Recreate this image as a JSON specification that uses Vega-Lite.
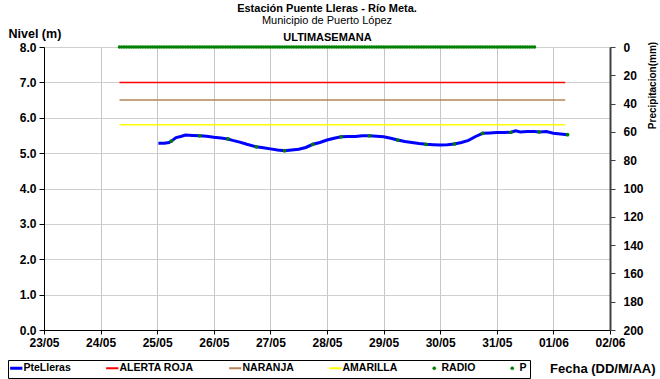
{
  "$schema": "https://vega.github.io/schema/vega-lite/v6.json",
  "width": 566,
  "height": 283,
  "autosize": {"type": "none"},
  "padding": {"left": 44, "top": 47, "right": 50, "bottom": 49},
  "background": "white",
  "title": {
    "text": "Estación Puente Lleras - Río Meta.",
    "subtitle": "Municipio de Puerto López",
    "anchor": "middle",
    "frame": "group",
    "font": "Liberation Sans",
    "fontSize": 11,
    "fontWeight": "bold",
    "color": "black",
    "subtitleFont": "Liberation Sans",
    "subtitleFontSize": 11,
    "subtitleColor": "black",
    "subtitlePadding": 1,
    "offset": 1
  },
  "config": {
    "view": {"stroke": null},
    "axis": {"labelFont": "Liberation Sans", "titleFont": "Liberation Sans", "labelColor": "black", "titleColor": "black"},
    "legend": {"strokeColor": "#000000", "fillColor": "#ffffff", "padding": 3, "strokeWidth": 1}
  },
  "datasets": {
    "umbrales": [
      {"f": "2020-05-24T08:00", "nivel": 7.0, "serie": "ALERTA ROJA"},
      {"f": "2020-06-01T05:00", "nivel": 7.0, "serie": "ALERTA ROJA"},
      {"f": "2020-05-24T08:00", "nivel": 6.5, "serie": "NARANJA"},
      {"f": "2020-06-01T05:00", "nivel": 6.5, "serie": "NARANJA"},
      {"f": "2020-05-24T08:00", "nivel": 5.8, "serie": "AMARILLA"},
      {"f": "2020-06-01T05:00", "nivel": 5.8, "serie": "AMARILLA"}
    ],
    "nivel": [
      {"f": "2020-05-25T00:30", "nivel": 5.28},
      {"f": "2020-05-25T03:00", "nivel": 5.28},
      {"f": "2020-05-25T05:00", "nivel": 5.30},
      {"f": "2020-05-25T06:00", "nivel": 5.34},
      {"f": "2020-05-25T08:00", "nivel": 5.44},
      {"f": "2020-05-25T10:00", "nivel": 5.47},
      {"f": "2020-05-25T12:00", "nivel": 5.51},
      {"f": "2020-05-25T15:00", "nivel": 5.50},
      {"f": "2020-05-25T18:00", "nivel": 5.49},
      {"f": "2020-05-25T21:00", "nivel": 5.48},
      {"f": "2020-05-26T00:00", "nivel": 5.45},
      {"f": "2020-05-26T03:00", "nivel": 5.43},
      {"f": "2020-05-26T06:00", "nivel": 5.40},
      {"f": "2020-05-26T08:00", "nivel": 5.36},
      {"f": "2020-05-26T11:00", "nivel": 5.31},
      {"f": "2020-05-26T14:00", "nivel": 5.25},
      {"f": "2020-05-26T18:00", "nivel": 5.18},
      {"f": "2020-05-26T21:00", "nivel": 5.15},
      {"f": "2020-05-27T00:00", "nivel": 5.12},
      {"f": "2020-05-27T03:00", "nivel": 5.09},
      {"f": "2020-05-27T06:00", "nivel": 5.07},
      {"f": "2020-05-27T09:00", "nivel": 5.09},
      {"f": "2020-05-27T12:00", "nivel": 5.11},
      {"f": "2020-05-27T15:00", "nivel": 5.16},
      {"f": "2020-05-27T18:00", "nivel": 5.25},
      {"f": "2020-05-27T21:00", "nivel": 5.30},
      {"f": "2020-05-28T00:00", "nivel": 5.37},
      {"f": "2020-05-28T03:00", "nivel": 5.42},
      {"f": "2020-05-28T06:00", "nivel": 5.46},
      {"f": "2020-05-28T09:00", "nivel": 5.47},
      {"f": "2020-05-28T12:00", "nivel": 5.47},
      {"f": "2020-05-28T15:00", "nivel": 5.49},
      {"f": "2020-05-28T18:00", "nivel": 5.49},
      {"f": "2020-05-28T21:00", "nivel": 5.48},
      {"f": "2020-05-29T00:00", "nivel": 5.46},
      {"f": "2020-05-29T03:00", "nivel": 5.42},
      {"f": "2020-05-29T06:00", "nivel": 5.37},
      {"f": "2020-05-29T09:00", "nivel": 5.33},
      {"f": "2020-05-29T12:00", "nivel": 5.30},
      {"f": "2020-05-29T15:00", "nivel": 5.27},
      {"f": "2020-05-29T18:00", "nivel": 5.25},
      {"f": "2020-05-29T21:00", "nivel": 5.24},
      {"f": "2020-05-30T00:00", "nivel": 5.23},
      {"f": "2020-05-30T03:00", "nivel": 5.24},
      {"f": "2020-05-30T06:00", "nivel": 5.26},
      {"f": "2020-05-30T09:00", "nivel": 5.30},
      {"f": "2020-05-30T12:00", "nivel": 5.36},
      {"f": "2020-05-30T15:00", "nivel": 5.47},
      {"f": "2020-05-30T18:00", "nivel": 5.56},
      {"f": "2020-05-30T21:00", "nivel": 5.57},
      {"f": "2020-05-31T00:00", "nivel": 5.58},
      {"f": "2020-05-31T03:00", "nivel": 5.58},
      {"f": "2020-05-31T06:00", "nivel": 5.59},
      {"f": "2020-05-31T08:00", "nivel": 5.63},
      {"f": "2020-05-31T10:00", "nivel": 5.60},
      {"f": "2020-05-31T13:00", "nivel": 5.61},
      {"f": "2020-05-31T16:00", "nivel": 5.61},
      {"f": "2020-05-31T18:00", "nivel": 5.60},
      {"f": "2020-05-31T21:00", "nivel": 5.61},
      {"f": "2020-06-01T00:00", "nivel": 5.56},
      {"f": "2020-06-01T03:00", "nivel": 5.54},
      {"f": "2020-06-01T06:00", "nivel": 5.52}
    ],
    "radio": [
      {"f": "2020-05-25T06:00", "nivel": 5.34},
      {"f": "2020-05-25T18:00", "nivel": 5.49},
      {"f": "2020-05-26T06:00", "nivel": 5.40},
      {"f": "2020-05-26T18:00", "nivel": 5.18},
      {"f": "2020-05-27T06:00", "nivel": 5.07},
      {"f": "2020-05-27T18:00", "nivel": 5.25},
      {"f": "2020-05-28T06:00", "nivel": 5.46},
      {"f": "2020-05-28T18:00", "nivel": 5.49},
      {"f": "2020-05-29T06:00", "nivel": 5.37},
      {"f": "2020-05-29T18:00", "nivel": 5.25},
      {"f": "2020-05-30T06:00", "nivel": 5.26},
      {"f": "2020-05-30T18:00", "nivel": 5.56},
      {"f": "2020-05-31T06:00", "nivel": 5.59},
      {"f": "2020-05-31T18:00", "nivel": 5.60},
      {"f": "2020-06-01T06:00", "nivel": 5.52}
    ],
    "precip": [
      {"f": "2020-05-24T08:00", "p": 0}, {"f": "2020-05-24T09:00", "p": 0}, {"f": "2020-05-24T10:00", "p": 0}, {"f": "2020-05-24T11:00", "p": 0},
      {"f": "2020-05-24T12:00", "p": 0}, {"f": "2020-05-24T13:00", "p": 0}, {"f": "2020-05-24T14:00", "p": 0}, {"f": "2020-05-24T15:00", "p": 0},
      {"f": "2020-05-24T16:00", "p": 0}, {"f": "2020-05-24T17:00", "p": 0}, {"f": "2020-05-24T18:00", "p": 0}, {"f": "2020-05-24T19:00", "p": 0},
      {"f": "2020-05-24T20:00", "p": 0}, {"f": "2020-05-24T21:00", "p": 0}, {"f": "2020-05-24T22:00", "p": 0}, {"f": "2020-05-24T23:00", "p": 0},
      {"f": "2020-05-25T00:00", "p": 0}, {"f": "2020-05-25T01:00", "p": 0}, {"f": "2020-05-25T02:00", "p": 0}, {"f": "2020-05-25T03:00", "p": 0},
      {"f": "2020-05-25T04:00", "p": 0}, {"f": "2020-05-25T05:00", "p": 0}, {"f": "2020-05-25T06:00", "p": 0}, {"f": "2020-05-25T07:00", "p": 0},
      {"f": "2020-05-25T08:00", "p": 0}, {"f": "2020-05-25T09:00", "p": 0}, {"f": "2020-05-25T10:00", "p": 0}, {"f": "2020-05-25T11:00", "p": 0},
      {"f": "2020-05-25T12:00", "p": 0}, {"f": "2020-05-25T13:00", "p": 0}, {"f": "2020-05-25T14:00", "p": 0}, {"f": "2020-05-25T15:00", "p": 0},
      {"f": "2020-05-25T16:00", "p": 0}, {"f": "2020-05-25T17:00", "p": 0}, {"f": "2020-05-25T18:00", "p": 0}, {"f": "2020-05-25T19:00", "p": 0},
      {"f": "2020-05-25T20:00", "p": 0}, {"f": "2020-05-25T21:00", "p": 0}, {"f": "2020-05-25T22:00", "p": 0}, {"f": "2020-05-25T23:00", "p": 0},
      {"f": "2020-05-26T00:00", "p": 0}, {"f": "2020-05-26T01:00", "p": 0}, {"f": "2020-05-26T02:00", "p": 0}, {"f": "2020-05-26T03:00", "p": 0},
      {"f": "2020-05-26T04:00", "p": 0}, {"f": "2020-05-26T05:00", "p": 0}, {"f": "2020-05-26T06:00", "p": 0}, {"f": "2020-05-26T07:00", "p": 0},
      {"f": "2020-05-26T08:00", "p": 0}, {"f": "2020-05-26T09:00", "p": 0}, {"f": "2020-05-26T10:00", "p": 0}, {"f": "2020-05-26T11:00", "p": 0},
      {"f": "2020-05-26T12:00", "p": 0}, {"f": "2020-05-26T13:00", "p": 0}, {"f": "2020-05-26T14:00", "p": 0}, {"f": "2020-05-26T15:00", "p": 0},
      {"f": "2020-05-26T16:00", "p": 0}, {"f": "2020-05-26T17:00", "p": 0}, {"f": "2020-05-26T18:00", "p": 0}, {"f": "2020-05-26T19:00", "p": 0},
      {"f": "2020-05-26T20:00", "p": 0}, {"f": "2020-05-26T21:00", "p": 0}, {"f": "2020-05-26T22:00", "p": 0}, {"f": "2020-05-26T23:00", "p": 0},
      {"f": "2020-05-27T00:00", "p": 0}, {"f": "2020-05-27T01:00", "p": 0}, {"f": "2020-05-27T02:00", "p": 0}, {"f": "2020-05-27T03:00", "p": 0},
      {"f": "2020-05-27T04:00", "p": 0}, {"f": "2020-05-27T05:00", "p": 0}, {"f": "2020-05-27T06:00", "p": 0}, {"f": "2020-05-27T07:00", "p": 0},
      {"f": "2020-05-27T08:00", "p": 0}, {"f": "2020-05-27T09:00", "p": 0}, {"f": "2020-05-27T10:00", "p": 0}, {"f": "2020-05-27T11:00", "p": 0},
      {"f": "2020-05-27T12:00", "p": 0}, {"f": "2020-05-27T13:00", "p": 0}, {"f": "2020-05-27T14:00", "p": 0}, {"f": "2020-05-27T15:00", "p": 0},
      {"f": "2020-05-27T16:00", "p": 0}, {"f": "2020-05-27T17:00", "p": 0}, {"f": "2020-05-27T18:00", "p": 0}, {"f": "2020-05-27T19:00", "p": 0},
      {"f": "2020-05-27T20:00", "p": 0}, {"f": "2020-05-27T21:00", "p": 0}, {"f": "2020-05-27T22:00", "p": 0}, {"f": "2020-05-27T23:00", "p": 0},
      {"f": "2020-05-28T00:00", "p": 0}, {"f": "2020-05-28T01:00", "p": 0}, {"f": "2020-05-28T02:00", "p": 0}, {"f": "2020-05-28T03:00", "p": 0},
      {"f": "2020-05-28T04:00", "p": 0}, {"f": "2020-05-28T05:00", "p": 0}, {"f": "2020-05-28T06:00", "p": 0}, {"f": "2020-05-28T07:00", "p": 0},
      {"f": "2020-05-28T08:00", "p": 0}, {"f": "2020-05-28T09:00", "p": 0}, {"f": "2020-05-28T10:00", "p": 0}, {"f": "2020-05-28T11:00", "p": 0},
      {"f": "2020-05-28T12:00", "p": 0}, {"f": "2020-05-28T13:00", "p": 0}, {"f": "2020-05-28T14:00", "p": 0}, {"f": "2020-05-28T15:00", "p": 0},
      {"f": "2020-05-28T16:00", "p": 0}, {"f": "2020-05-28T17:00", "p": 0}, {"f": "2020-05-28T18:00", "p": 0}, {"f": "2020-05-28T19:00", "p": 0},
      {"f": "2020-05-28T20:00", "p": 0}, {"f": "2020-05-28T21:00", "p": 0}, {"f": "2020-05-28T22:00", "p": 0}, {"f": "2020-05-28T23:00", "p": 0},
      {"f": "2020-05-29T00:00", "p": 0}, {"f": "2020-05-29T01:00", "p": 0}, {"f": "2020-05-29T02:00", "p": 0}, {"f": "2020-05-29T03:00", "p": 0},
      {"f": "2020-05-29T04:00", "p": 0}, {"f": "2020-05-29T05:00", "p": 0}, {"f": "2020-05-29T06:00", "p": 0}, {"f": "2020-05-29T07:00", "p": 0},
      {"f": "2020-05-29T08:00", "p": 0}, {"f": "2020-05-29T09:00", "p": 0}, {"f": "2020-05-29T10:00", "p": 0}, {"f": "2020-05-29T11:00", "p": 0},
      {"f": "2020-05-29T12:00", "p": 0}, {"f": "2020-05-29T13:00", "p": 0}, {"f": "2020-05-29T14:00", "p": 0}, {"f": "2020-05-29T15:00", "p": 0},
      {"f": "2020-05-29T16:00", "p": 0}, {"f": "2020-05-29T17:00", "p": 0}, {"f": "2020-05-29T18:00", "p": 0}, {"f": "2020-05-29T19:00", "p": 0},
      {"f": "2020-05-29T20:00", "p": 0}, {"f": "2020-05-29T21:00", "p": 0}, {"f": "2020-05-29T22:00", "p": 0}, {"f": "2020-05-29T23:00", "p": 0},
      {"f": "2020-05-30T00:00", "p": 0}, {"f": "2020-05-30T01:00", "p": 0}, {"f": "2020-05-30T02:00", "p": 0}, {"f": "2020-05-30T03:00", "p": 0},
      {"f": "2020-05-30T04:00", "p": 0}, {"f": "2020-05-30T05:00", "p": 0}, {"f": "2020-05-30T06:00", "p": 0}, {"f": "2020-05-30T07:00", "p": 0},
      {"f": "2020-05-30T08:00", "p": 0}, {"f": "2020-05-30T09:00", "p": 0}, {"f": "2020-05-30T10:00", "p": 0}, {"f": "2020-05-30T11:00", "p": 0},
      {"f": "2020-05-30T12:00", "p": 0}, {"f": "2020-05-30T13:00", "p": 0}, {"f": "2020-05-30T14:00", "p": 0}, {"f": "2020-05-30T15:00", "p": 0},
      {"f": "2020-05-30T16:00", "p": 0}, {"f": "2020-05-30T17:00", "p": 0}, {"f": "2020-05-30T18:00", "p": 0}, {"f": "2020-05-30T19:00", "p": 0},
      {"f": "2020-05-30T20:00", "p": 0}, {"f": "2020-05-30T21:00", "p": 0}, {"f": "2020-05-30T22:00", "p": 0}, {"f": "2020-05-30T23:00", "p": 0},
      {"f": "2020-05-31T00:00", "p": 0}, {"f": "2020-05-31T01:00", "p": 0}, {"f": "2020-05-31T02:00", "p": 0}, {"f": "2020-05-31T03:00", "p": 0},
      {"f": "2020-05-31T04:00", "p": 0}, {"f": "2020-05-31T05:00", "p": 0}, {"f": "2020-05-31T06:00", "p": 0}, {"f": "2020-05-31T07:00", "p": 0},
      {"f": "2020-05-31T08:00", "p": 0}, {"f": "2020-05-31T09:00", "p": 0}, {"f": "2020-05-31T10:00", "p": 0}, {"f": "2020-05-31T11:00", "p": 0},
      {"f": "2020-05-31T12:00", "p": 0}, {"f": "2020-05-31T13:00", "p": 0}, {"f": "2020-05-31T14:00", "p": 0}, {"f": "2020-05-31T15:00", "p": 0},
      {"f": "2020-05-31T16:00", "p": 0}
    ]
  },
  "resolve": {"scale": {"y": "independent"}, "axis": {"x": "independent", "y": "independent"}},
  "layer": [
    {
      "data": {"name": "umbrales"},
      "mark": {"type": "line", "strokeWidth": 1.5, "clip": false},
      "encoding": {
        "x": {
          "field": "f", "type": "temporal",
          "scale": {"domain": [{"year": 2020, "month": 5, "date": 23}, {"year": 2020, "month": 6, "date": 2}]},
          "axis": {
            "orient": "bottom",
            "format": "%d/%m",
            "tickCount": {"interval": "day", "step": 1},
            "labelFontSize": 12, "labelFontWeight": "bold", "labelPadding": 3,
            "labelFlush": false, "labelOverlap": false,
            "domainColor": "black", "tickColor": "black", "tickSize": 4,
            "grid": true, "gridColor": "#c6c6c6",
            "title": "Fecha (DD/M/AA)", "titleFontSize": 13, "titleFontWeight": "bold",
            "titleX": 611, "titleY": 38, "titleAlign": "right", "titleBaseline": "middle"
          }
        },
        "y": {
          "field": "nivel", "type": "quantitative",
          "scale": {"domain": [0, 8], "nice": false, "zero": false},
          "axis": {
            "orient": "left",
            "values": [0, 1, 2, 3, 4, 5, 6, 7, 8],
            "format": ".1f",
            "labelFontSize": 12, "labelFontWeight": "bold", "labelPadding": 3,
            "domainColor": "black", "tickColor": "black", "tickSize": 5,
            "grid": true, "gridColor": "#cfcfcf",
            "title": "Nivel (m)", "titleFontSize": 12.5, "titleFontWeight": "bold",
            "titleAngle": 0, "titleX": -36, "titleY": -14, "titleAlign": "left", "titleBaseline": "middle"
          }
        },
        "color": {
          "field": "serie", "type": "nominal",
          "scale": {
            "domain": ["PteLleras", "ALERTA ROJA", "NARANJA", "AMARILLA", "RADIO", "P"],
            "range": ["#0000ff", "#ff0000", "#b5835a", "#ffff00", "#008000", "#008000"]
          },
          "legend": {
            "title": null,
            "orient": "none",
            "legendX": -36,
            "legendY": 313,
            "direction": "horizontal",
            "strokeColor": "#000000",
            "fillColor": "#ffffff",
            "padding": 3,
            "columnPadding": 31,
            "gridAlign": "none",
            "symbolSize": 400,
            "symbolType": "stroke",
            "labelFont": "Liberation Sans",
            "labelFontSize": 10.5,
            "labelFontWeight": "bold",
            "labelColor": "black",
            "labelOffset": 2,
            "labelLimit": 200,
            "encode": {
              "symbols": {
                "update": {
                  "shape": {"signal": "datum.value === 'RADIO' || datum.value === 'P' ? 'circle' : 'stroke'"},
                  "size": {"signal": "datum.value === 'RADIO' || datum.value === 'P' ? 10 : 150"},
                  "fill": {"signal": "datum.value === 'RADIO' || datum.value === 'P' ? '#008000' : 'transparent'"},
                  "stroke": {"signal": "scale('color', datum.value)"},
                  "strokeWidth": {"signal": "datum.value === 'PteLleras' ? 3 : (datum.value === 'RADIO' || datum.value === 'P' ? 0.5 : 2)"}
                }
              }
            }
          }
        }
      }
    },
    {
      "data": {"name": "nivel"},
      "mark": {"type": "line", "strokeWidth": 3, "color": "#0000ff"},
      "encoding": {
        "x": {"field": "f", "type": "temporal", "axis": null},
        "y": {"field": "nivel", "type": "quantitative", "scale": {"domain": [0, 8], "nice": false, "zero": false}, "axis": null}
      }
    },
    {
      "data": {"name": "radio"},
      "mark": {"type": "point", "filled": true, "size": 14, "color": "#008000", "opacity": 1},
      "encoding": {
        "x": {"field": "f", "type": "temporal", "axis": null},
        "y": {"field": "nivel", "type": "quantitative", "scale": {"domain": [0, 8], "nice": false, "zero": false}, "axis": null}
      }
    },
    {
      "data": {"name": "precip"},
      "mark": {"type": "point", "filled": true, "size": 12, "color": "#008000", "opacity": 1, "clip": false},
      "encoding": {
        "x": {
          "field": "f", "type": "temporal",
          "axis": {
            "orient": "top", "labels": false, "ticks": false, "domain": false, "grid": false,
            "title": "ULTIMASEMANA", "titleFontSize": 11, "titleFontWeight": "bold", "titlePadding": 5
          }
        },
        "y": {
          "field": "p", "type": "quantitative",
          "scale": {"domain": [0, 200], "reverse": true, "nice": false},
          "axis": {
            "orient": "right",
            "values": [0, 20, 40, 60, 80, 100, 120, 140, 160, 180, 200],
            "labelFontSize": 12, "labelFontWeight": "bold", "labelPadding": 8,
            "domainColor": "#404040", "domainWidth": 2, "tickColor": "#404040", "tickSize": 5,
            "grid": false,
            "title": "Precipitacion(mm)", "titleFontSize": 10, "titleFontWeight": "bold",
            "titleAngle": 270, "titleX": 42, "titleY": 38, "titleAlign": "center", "titleBaseline": "middle"
          }
        }
      }
    }
  ]
}
